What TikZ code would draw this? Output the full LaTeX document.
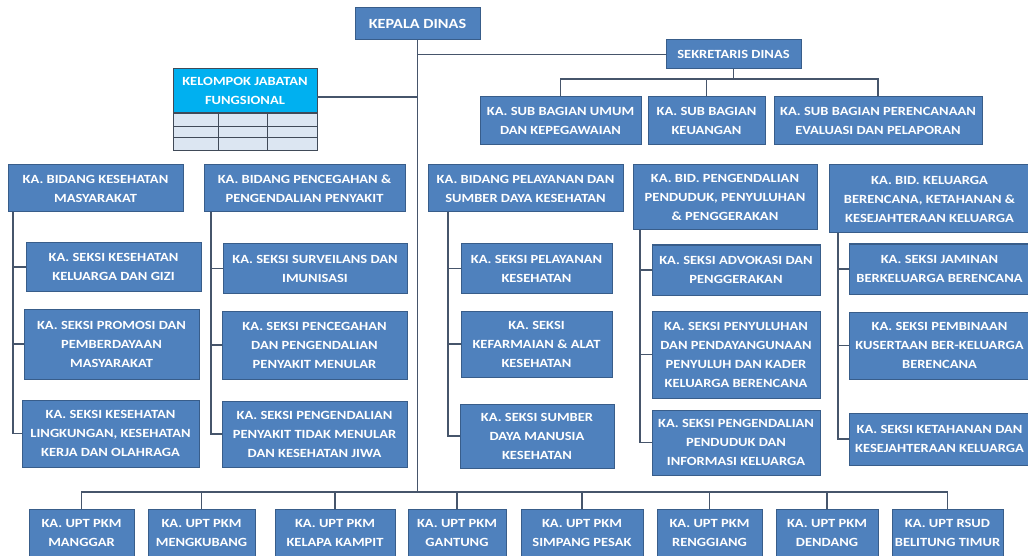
\documentclass[tikz,border=0pt]{standalone}
\usepackage{fontspec}
\setmainfont{Carlito}[FakeStretch=1.16]
\usetikzlibrary{calc,positioning}
\definecolor{boxblue}{HTML}{4F81BD}
\definecolor{boxedge}{HTML}{385D8A}
\definecolor{linkgray}{HTML}{46556B}
\definecolor{kjfcyan}{HTML}{00B0F0}
\definecolor{kjfrow}{HTML}{DCE6F2}
\definecolor{rowedge}{HTML}{404A58}

\begin{document}
\begin{tikzpicture}[x=1pt,y=-1pt]

    % Styles
    \tikzset{
        unit/.style={draw=boxedge, fill=boxblue, line width=1pt, text=white,
            font=\bfseries\fontsize{12.5}{19}\selectfont, align=center, inner sep=0pt},
        link/.style={draw=linkgray, line width=1.2pt}
    }

    \useasboundingbox (0,0) rectangle (1028,556);

    % Coordinates
    \coordinate (busB) at (417.5,492);  % bottom bus of the UPT row
    \coordinate (busS) at (733.5,79);   % bus under the secretary
    \coordinate (kjfout) at (317,97);   % exit of the functional group
    \coordinate (t1) at (13,212);
    \coordinate (t2) at (211,212);
    \coordinate (t3) at (448,212);
    \coordinate (t4) at (640,230);
    \coordinate (t5) at (838,233);

    % Head and secretary
    \node[unit, font=\bfseries\fontsize{14}{19}\selectfont, minimum width=125, minimum height=32] (kadis) at (417.5,24) {KEPALA DINAS};
    \node[unit, minimum width=135, minimum height=29] (sekdis) at (733.5,54.5) {SEKRETARIS DINAS};
    \node[unit, minimum width=161, minimum height=48] (sub1) at (560.5,121) {KA. SUB BAGIAN UMUM\\DAN KEPEGAWAIAN};
    \node[unit, minimum width=117, minimum height=48] (sub2) at (706.5,121) {KA. SUB BAGIAN\\KEUANGAN};
    \node[unit, minimum width=208, minimum height=48] (sub3) at (878,121) {KA. SUB BAGIAN PERENCANAAN\\EVALUASI DAN PELAPORAN};

    % Functional group
    \foreach \ya/\yb in {113/126,126/137,137/150}
        \draw[draw=rowedge, fill=kjfrow, line width=0.8pt] (173,\ya) rectangle (317,\yb);
    \foreach \xd in {218,267}
        \draw[rowedge, line width=0.6pt] (\xd,113) -- (\xd,150);
    \node[unit, fill=kjfcyan, draw=rowedge, minimum width=144, minimum height=44] (kjf) at (245,91) {KELOMPOK JABATAN\\FUNGSIONAL};

    % Bidang
    \node[unit, minimum width=175, minimum height=47] (b1) at (95.5,188.5) {KA. BIDANG KESEHATAN\\MASYARAKAT};
    \node[unit, minimum width=201, minimum height=47] (b2) at (304.5,188.5) {KA. BIDANG PENCEGAHAN \&\\PENGENDALIAN PENYAKIT};
    \node[unit, minimum width=195, minimum height=47] (b3) at (525.5,188.5) {KA. BIDANG PELAYANAN DAN\\SUMBER DAYA KESEHATAN};
    \node[unit, minimum width=184, minimum height=65] (b4) at (725,197.5) {KA. BID. PENGENDALIAN\\PENDUDUK, PENYULUHAN\\\& PENGGERAKAN};
    \node[unit, minimum width=201, minimum height=68] (b5) at (929.5,199) {KA. BID. KELUARGA\\BERENCANA, KETAHANAN \&\\KESEJAHTERAAN KELUARGA};

    % Seksi
    \node[unit, minimum width=175, minimum height=48] (s11) at (113.5,267) {KA. SEKSI KESEHATAN\\KELUARGA DAN GIZI};
    \node[unit, minimum width=175, minimum height=70] (s12) at (111.5,344) {KA. SEKSI PROMOSI DAN\\PEMBERDAYAAN\\MASYARAKAT};
    \node[unit, minimum width=177, minimum height=67] (s13) at (110.5,433.5) {KA. SEKSI KESEHATAN\\LINGKUNGAN, KESEHATAN\\KERJA DAN OLAHRAGA};
    \node[unit, minimum width=184, minimum height=49] (s21) at (315,268.5) {KA. SEKSI SURVEILANS DAN\\IMUNISASI};
    \node[unit, minimum width=185, minimum height=68] (s22) at (314.5,345) {KA. SEKSI PENCEGAHAN\\DAN PENGENDALIAN\\PENYAKIT MENULAR};
    \node[unit, minimum width=185, minimum height=66] (s23) at (314.5,434) {KA. SEKSI PENGENDALIAN\\PENYAKIT TIDAK MENULAR\\DAN KESEHATAN JIWA};
    \node[unit, minimum width=151, minimum height=49] (s31) at (536.5,268.5) {KA. SEKSI PELAYANAN\\KESEHATAN};
    \node[unit, minimum width=151, minimum height=66] (s32) at (536.5,344) {KA. SEKSI\\KEFARMAIAN \& ALAT\\KESEHATAN};
    \node[unit, minimum width=154, minimum height=64] (s33) at (537,436) {KA. SEKSI SUMBER\\DAYA MANUSIA\\KESEHATAN};
    \node[unit, minimum width=168, minimum height=50] (s41) at (736,270) {KA. SEKSI ADVOKASI DAN\\PENGGERAKAN};
    \node[unit, minimum width=168, minimum height=87] (s42) at (736,354.5) {KA. SEKSI PENYULUHAN\\DAN PENDAYANGUNAAN\\PENYULUH DAN KADER\\KELUARGA BERENCANA};
    \node[unit, minimum width=168, minimum height=65] (s43) at (736,442.5) {KA. SEKSI PENGENDALIAN\\PENDUDUK DAN\\INFORMASI KELUARGA};
    \node[unit, minimum width=181, minimum height=50] (s51) at (939.5,269) {KA. SEKSI JAMINAN\\BERKELUARGA BERENCANA};
    \node[unit, minimum width=181, minimum height=67] (s52) at (939.5,345.5) {KA. SEKSI PEMBINAAN\\KUSERTAAN BER-KELUARGA\\BERENCANA};
    \node[unit, minimum width=181, minimum height=52] (s53) at (939.5,439) {KA. SEKSI KETAHANAN DAN\\KESEJAHTERAAN KELUARGA};

    % UPT row
    \node[unit, minimum width=105, minimum height=47] (u1) at (81.5,532.5) {KA. UPT PKM\\MANGGAR};
    \node[unit, minimum width=107, minimum height=47] (u2) at (201.5,532.5) {KA. UPT PKM\\MENGKUBANG};
    \node[unit, minimum width=120, minimum height=47] (u3) at (335,532.5) {KA. UPT PKM\\KELAPA KAMPIT};
    \node[unit, minimum width=98, minimum height=47] (u4) at (457,532.5) {KA. UPT PKM\\GANTUNG};
    \node[unit, minimum width=122, minimum height=47] (u5) at (582,532.5) {KA. UPT PKM\\SIMPANG PESAK};
    \node[unit, minimum width=105, minimum height=47] (u6) at (709.5,532.5) {KA. UPT PKM\\RENGGIANG};
    \node[unit, minimum width=102, minimum height=47] (u7) at (827,532.5) {KA. UPT PKM\\DENDANG};
    \node[unit, minimum width=111, minimum height=47] (u8) at (947.5,532.5) {KA. UPT RSUD\\BELITUNG TIMUR};

    % Connectors
    \draw[link] (kadis.south) -- (busB);
    \draw[link] (sekdis.west) -- (sekdis.west -| busB);
    \draw[link] (kjfout) -- (kjfout -| busB);
    \draw[link] (sekdis.south) -- (busS);
    \foreach \u in {sub1,sub2,sub3}
        \draw[link] (\u.north) |- (busS);
    \foreach \u in {u1,u2,u3,u4,u5,u6,u7,u8}
        \draw[link] (\u.north) |- (busB);
    \foreach \t/\a/\b/\c in {t1/s11/s12/s13, t2/s21/s22/s23, t3/s31/s32/s33, t4/s41/s42/s43, t5/s51/s52/s53} {
        \draw[link] (\t) |- (\c.west);
        \draw[link] (\a.west) -- (\a.west -| \t);
        \draw[link] (\b.west) -- (\b.west -| \t);
    }

\end{tikzpicture}
\end{document}
